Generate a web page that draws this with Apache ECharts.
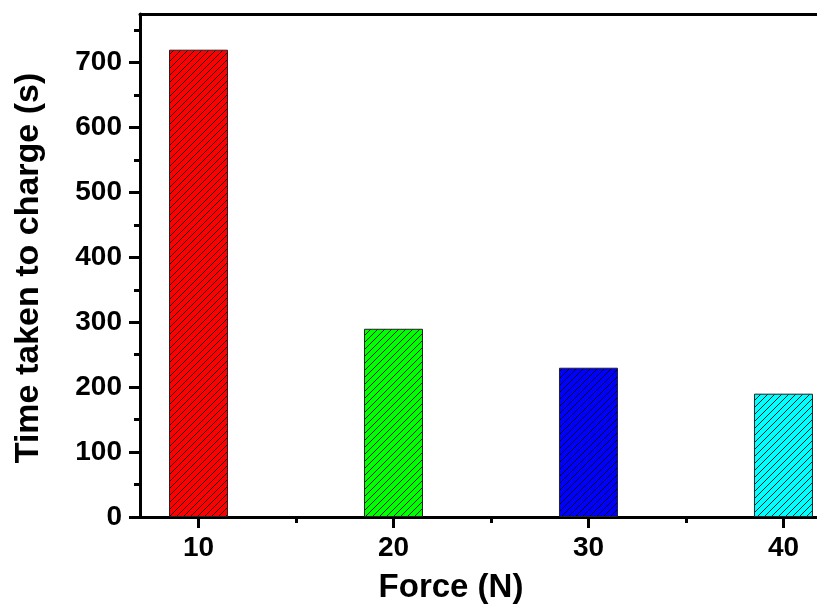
<!DOCTYPE html>
<html>
<head>
<meta charset="utf-8">
<script src="https://cdn.jsdelivr.net/npm/echarts@6/dist/echarts.min.js"></script>
<style>
html,body{margin:0;padding:0;background:#fff;}
#chart{width:817px;height:608px;}
</style>
</head>
<body>
<div id="chart"></div>
<script>
// ---- data ----
var forces = [10, 20, 30, 40];
var times = [720, 290, 230, 190];
var xTickValues = [10, 20, 30, 40];
var xMinorValues = [15, 25, 35];
var yTickValues = [0, 100, 200, 300, 400, 500, 600, 700];
var yMinorValues = [50, 150, 250, 350, 450, 550, 650, 750];
var xTitle = 'Force (N)';
var yTitle = 'Time taken to charge (s)';

// ---- styles ----
var barColors = ['#ff0000', '#00ff00', '#0000ff', '#00ffff'];
var FONT = '"Liberation Sans", Arial, sans-serif';

function hatch(color) {
  var c = document.createElement('canvas');
  var s = 7;
  c.width = s; c.height = s;
  var g = c.getContext('2d');
  g.fillStyle = color;
  g.fillRect(0, 0, s, s);
  g.strokeStyle = 'rgba(0,0,0,0.85)';
  g.lineWidth = 1;
  g.beginPath();
  g.moveTo(-1, s + 1); g.lineTo(s + 1, -1);
  g.moveTo(-1, 1); g.lineTo(1, -1);
  g.moveTo(s - 1, s + 1); g.lineTo(s + 1, s - 1);
  g.stroke();
  return {image: c, repeat: 'repeat'};
}

var chart = echarts.init(document.getElementById('chart'), null, {renderer: 'canvas'});

var labelStyle = {color: '#000', fontSize: 28, fontWeight: 'bold', fontFamily: FONT};
var lineStyle = {color: '#000', width: 3};
var X_MIN = 7, X_MAX = 41.72;

var barData = forces.map(function (f, i) {
  return {value: [f, times[i]], itemStyle: {color: hatch(barColors[i])}};
});

var option = {
  animation: false,
  backgroundColor: '#fff',
  grid: {left: 140, top: 14, right: 0, height: 503, containLabel: false},
  xAxis: [
    {
      type: 'value', min: X_MIN, max: X_MAX, position: 'bottom',
      axisLine: {show: true, lineStyle: lineStyle},
      axisTick: {show: true, inside: false, length: 11, lineStyle: lineStyle, customValues: xTickValues},
      axisLabel: Object.assign({show: true, margin: 17, customValues: xTickValues}, labelStyle),
      splitLine: {show: false}
    },
    {
      type: 'value', min: X_MIN, max: X_MAX, position: 'bottom',
      axisLine: {show: false},
      axisTick: {show: true, inside: false, length: 6, lineStyle: lineStyle, customValues: xMinorValues},
      axisLabel: {show: false},
      splitLine: {show: false}
    },
    {
      type: 'value', min: X_MIN, max: X_MAX, position: 'top',
      axisLine: {show: true, lineStyle: lineStyle},
      axisTick: {show: false},
      axisLabel: {show: false},
      splitLine: {show: false}
    }
  ],
  yAxis: [
    {
      type: 'value', min: 0, max: 775, position: 'left',
      axisLine: {show: true, lineStyle: lineStyle},
      axisTick: {show: true, inside: false, length: 11, lineStyle: lineStyle, customValues: yTickValues},
      axisLabel: Object.assign({show: true, margin: 18, customValues: yTickValues}, labelStyle),
      splitLine: {show: false}
    },
    {
      type: 'value', min: 0, max: 775, position: 'left',
      axisLine: {show: false},
      axisTick: {show: true, inside: false, length: 6, lineStyle: lineStyle, customValues: yMinorValues},
      axisLabel: {show: false},
      splitLine: {show: false}
    }
  ],
  series: [
    {
      type: 'bar',
      xAxisIndex: 0, yAxisIndex: 0,
      barWidth: 59,
      data: barData,
      itemStyle: {borderColor: '#222', borderWidth: 1}
    }
  ],
  graphic: [
    {
      type: 'text', x: 451, y: 588,
      style: {text: xTitle, fill: '#000', font: 'bold 33px ' + FONT, textAlign: 'center', textVerticalAlign: 'middle'}
    },
    {
      type: 'text', x: 29, y: 268, rotation: Math.PI / 2,
      style: {text: yTitle, fill: '#000', font: 'bold 34px ' + FONT, textAlign: 'center', textVerticalAlign: 'middle'}
    }
  ]
};
chart.setOption(option);
</script>
</body>
</html>
